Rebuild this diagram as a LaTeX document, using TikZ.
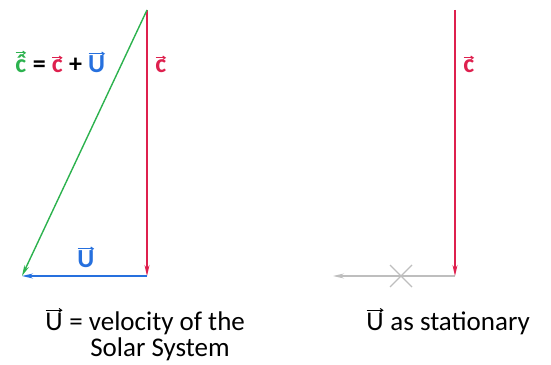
\documentclass[tikz,border=0pt]{standalone}
\usepackage{fontspec}
\setmainfont{Carlito}
\usetikzlibrary{arrows.meta}
\definecolor{cred}{RGB}{222,32,78}
\definecolor{cgreen}{RGB}{44,178,78}
\definecolor{cblue}{RGB}{38,112,222}
\definecolor{cgray}{RGB}{190,190,190}
\newcommand{\vecarr}[1]{\tikz[baseline=(vt.base)]{\node[inner sep=0pt,outer sep=0pt](vt){#1};\draw[line width=1pt,-{Straight Barb[length=2.6pt,width=3.6pt]}] ([xshift=0.3pt,yshift=2.4pt]vt.north west) -- ([xshift=-0.1pt,yshift=2.4pt]vt.north east);}}
\tikzset{
  vec/.style={line width=1.4pt,-{Stealth[length=11pt,width=5pt]}},
  lab/.style={font=\fontsize{26}{30}\selectfont\bfseries,inner sep=0pt},
  captxt/.style={font=\fontsize{27}{31}\selectfont,inner sep=0pt}
}
\begin{document}
\begin{tikzpicture}[x=1pt,y=1pt]
\useasboundingbox (0,0) rectangle (551,364);
% left diagram
\coordinate (A) at (147,354);
\coordinate (B) at (147,88);
\coordinate (C) at (22,88);
\draw[vec,cred] (A) -- (B);
\draw[vec,cblue] (B) -- (C);
\draw[vec,cgreen] (A) -- (C);
\node[lab,anchor=base west] (eq) at (15,291) {\textcolor{cgreen}{\vecarr{ĉ}} = \textcolor{cred}{\vecarr{c}} + \textcolor{cblue}{\vecarr{U}}};
\node[lab,cred,anchor=base] (cl) at (161,291) {\vecarr{c}};
\node[lab,cblue,anchor=base] (ul) at (86,96) {\vecarr{U}};
% right diagram
\coordinate (D) at (455,354);
\coordinate (E) at (455,88);
\coordinate (F) at (333,88);
\coordinate (X) at (401,88);
\draw[vec,cgray,line width=1.2pt] (E) -- (F);
\draw[vec,cred] (D) -- (E);
\draw[cgray,line width=1.2pt] ([shift={(-11,-11)}]X) -- ([shift={(11,11)}]X) ([shift={(-11,11)}]X) -- ([shift={(11,-11)}]X);
\node[lab,cred,anchor=base] (cr) at (469,291) {\vecarr{c}};
% captions
\node[captxt,anchor=base] (t1) at (145,34) {\vecarr{U} = velocity of the};
\node[captxt,anchor=base] (t2) at (160,8) {Solar System};
\node[captxt,anchor=base] (t3) at (448,34) {\vecarr{U} as stationary};
\end{tikzpicture}
\end{document}
